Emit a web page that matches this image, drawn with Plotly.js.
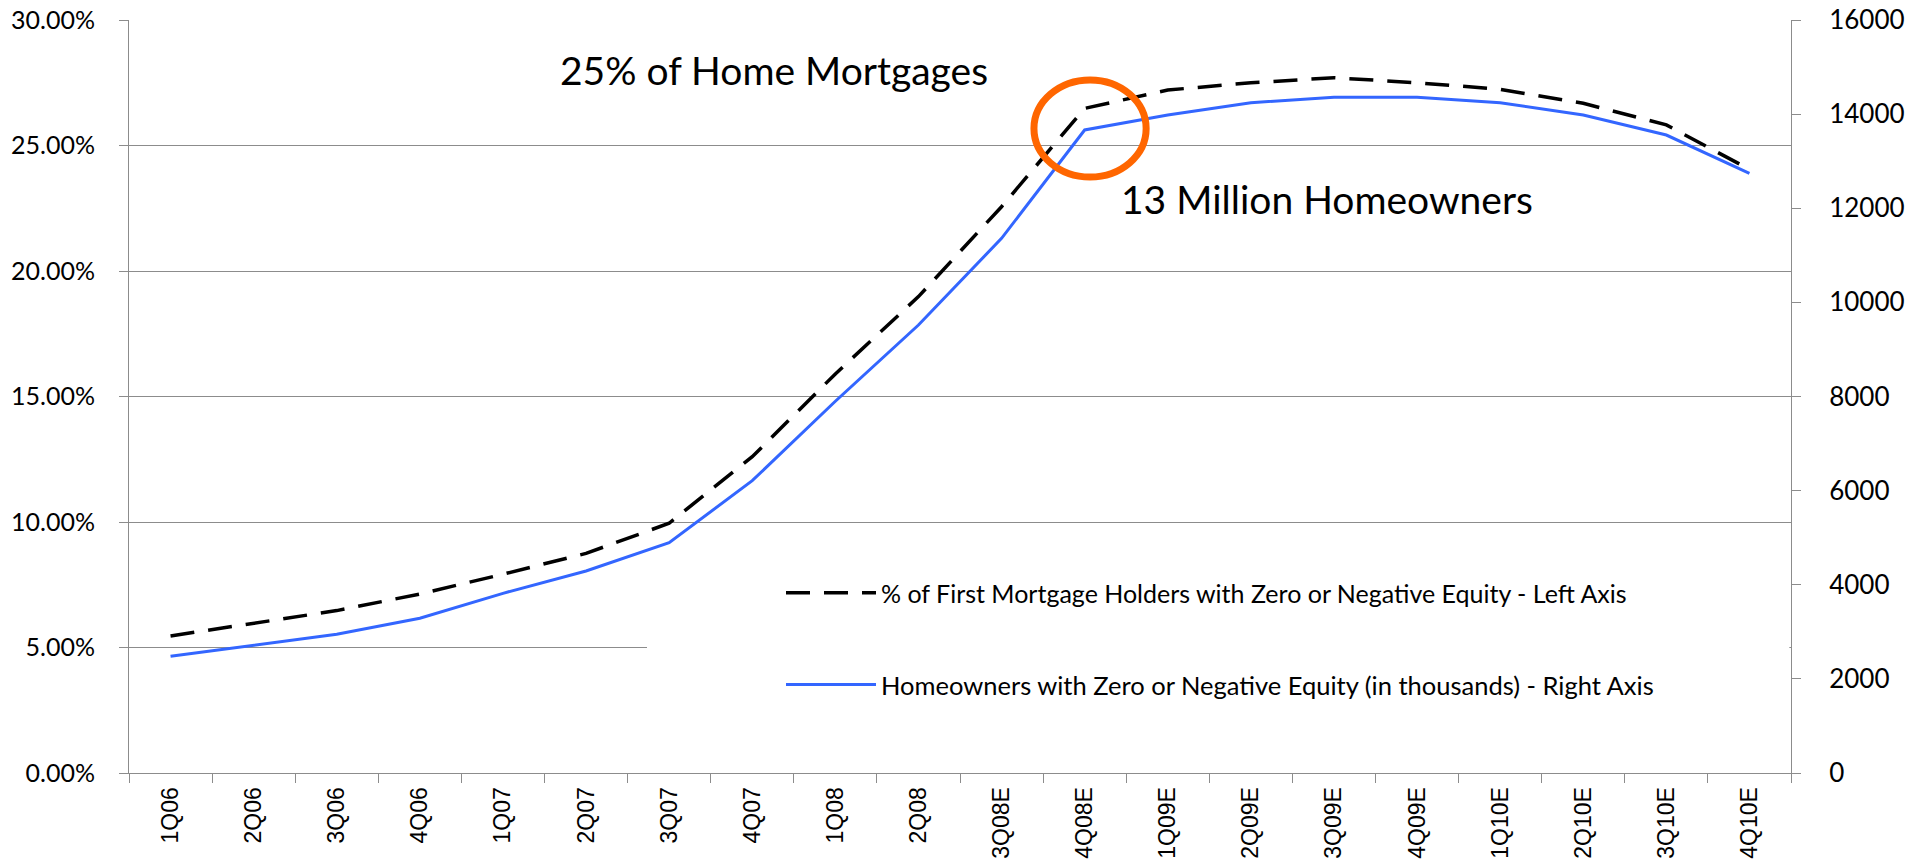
<!DOCTYPE html>
<html>
<head>
<meta charset="utf-8">
<script src="https://cdn.plot.ly/plotly-3.0.1.min.js"></script>
<style>
html,body{margin:0;padding:0;background:#fff;}
#chart{width:1913px;height:864px;}
</style>
</head>
<body>
<div id="chart"></div>
<script>
// ---- data ----
const quarters = ['1Q06','2Q06','3Q06','4Q06','1Q07','2Q07','3Q07','4Q07','1Q08','2Q08',
                  '3Q08E','4Q08E','1Q09E','2Q09E','3Q09E','4Q09E','1Q10E','2Q10E','3Q10E','4Q10E'];
const pctZeroNegEquity = [0.0546,0.0596,0.0647,0.0713,0.0792,0.0875,0.0995,0.1260,0.1590,0.1898,
                          0.2256,0.2648,0.2721,0.2750,0.2770,0.2750,0.2724,0.2668,0.2582,0.2405];
const homeownersThousands = [2480,2720,2947,3287,3818,4292,4894,6211,7900,9519,
                             11361,13663,13981,14243,14357,14357,14243,13981,13556,12743];
const seriesNames = ['% of First Mortgage Holders with Zero or Negative Equity - Left Axis',
                     'Homeowners with Zero or Negative Equity (in thousands) - Right Axis'];
const noteTexts = ['25% of Home Mortgages','13 Million Homeowners'];
const highlightQuarter = '4Q08E';

const FONT = 'Lato, "Open Sans", sans-serif';
const GRID = '#8c8c8c';

const traces = [
  {
    x: quarters, y: pctZeroNegEquity, name: seriesNames[0], type: 'scatter', mode: 'lines',
    line: {color: '#000000', width: 3.5, dash: '24px,14px'}, yaxis: 'y', legend: 'legend',
    hoverinfo: 'x+y'
  },
  {
    x: quarters, y: homeownersThousands, name: seriesNames[1], type: 'scatter', mode: 'lines',
    line: {color: '#3366FF', width: 3}, yaxis: 'y2', legend: 'legend2',
    hoverinfo: 'x+y'
  }
];

const hi = quarters.indexOf(highlightQuarter);

const layout = {
  width: 1913, height: 864,
  margin: {l: 129, r: 122, t: 20, b: 91, pad: 0},
  paper_bgcolor: '#ffffff', plot_bgcolor: '#ffffff',
  font: {family: FONT, color: '#000000', size: 26},
  xaxis: {
    type: 'category', categoryorder: 'array', categoryarray: quarters,
    range: [-0.5, quarters.length - 0.5],
    showgrid: false, zeroline: false,
    showline: true, linecolor: GRID, linewidth: 1,
    ticks: 'outside', ticklen: 9, tickcolor: GRID, tickwidth: 1,
    tickson: 'boundaries',
    tickangle: -90, ticklabelstandoff: 4,
    tickfont: {family: '"Liberation Sans", Arial, sans-serif', size: 23, color: '#000'}
  },
  yaxis: {
    range: [0, 0.30], dtick: 0.05, tick0: 0, tickformat: '.2%',
    showgrid: true, gridcolor: GRID, gridwidth: 1, zeroline: false,
    showline: true, linecolor: GRID, linewidth: 1,
    ticks: 'outside', ticklen: 9, tickcolor: GRID,
    ticklabelstandoff: 19,
    tickfont: {family: FONT, size: 25, color: '#000'}
  },
  yaxis2: {
    range: [0, 16000], dtick: 2000, tick0: 0, tickformat: 'd', overlaying: 'y', side: 'right',
    showgrid: false, zeroline: false,
    showline: true, linecolor: GRID, linewidth: 1,
    ticks: 'outside', ticklen: 9, tickcolor: GRID,
    ticklabelstandoff: 23,
    tickfont: {family: FONT, size: 26, color: '#000'}
  },
  showlegend: true,
  legend: {
    x: (781 - 129) / 1662, y: (773 - 593) / 753, xanchor: 'left', yanchor: 'middle',
    bgcolor: 'rgba(0,0,0,0)', borderwidth: 0, itemwidth: 90,
    font: {family: FONT, size: 25, color: '#000'}
  },
  legend2: {
    x: (781 - 129) / 1662, y: (773 - 685) / 753, xanchor: 'left', yanchor: 'middle',
    bgcolor: 'rgba(0,0,0,0)', borderwidth: 0, itemwidth: 90,
    font: {family: FONT, size: 25.5, color: '#000'}
  },
  shapes: [
    // white legend box hiding the gridline behind it
    {type: 'rect', xref: 'paper', yref: 'paper', layer: 'above',
     x0: (647 - 129) / 1662, x1: 0.999, y0: 0.012, y1: (773 - 562) / 753,
     fillcolor: '#ffffff', line: {width: 0}},
    // orange highlight ellipse around the 4Q08E point
    {type: 'circle', xref: 'x', yref: 'y2', layer: 'above',
     x0: hi - 0.61, x1: hi + 0.74, y0: 12664, y1: 14725,
     line: {color: '#FF6600', width: 7}, fillcolor: 'rgba(0,0,0,0)'}
  ],
  annotations: [
    {text: noteTexts[0], xref: 'paper', yref: 'paper', x: (558 - 129) / 1662, y: (773 - 70) / 753,
     xanchor: 'left', yanchor: 'middle', showarrow: false,
     font: {family: FONT, size: 39, color: '#000'}},
    {text: noteTexts[1], xref: 'paper', yref: 'paper', x: (1119 - 129) / 1662, y: (773 - 199) / 753,
     xanchor: 'left', yanchor: 'middle', showarrow: false,
     font: {family: FONT, size: 39, color: '#000'}}
  ]
};

Plotly.newPlot('chart', traces, layout, {displayModeBar: false, staticPlot: true});
</script>
</body>
</html>
